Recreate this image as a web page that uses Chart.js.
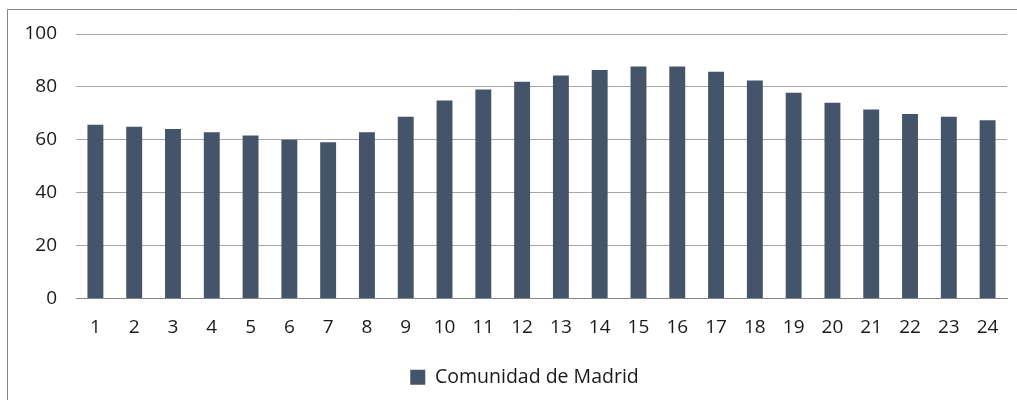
<!DOCTYPE html>
<html>
<head>
<meta charset="utf-8">
<script src="https://cdn.jsdelivr.net/npm/chart.js@4/dist/chart.umd.min.js"></script>
<style>
  html, body { margin: 0; padding: 0; background: #fff; }
  #wrap { position: relative; width: 1017px; height: 400px; }
</style>
</head>
<body>
<div id="wrap"><canvas id="chart"></canvas></div>
<script>
// Datos del gráfico
const horas = ['1', '2', '3', '4', '5', '6', '7', '8', '9', '10', '11', '12',
  '13', '14', '15', '16', '17', '18', '19', '20', '21', '22', '23', '24'];
const madrid = [65.7, 64.9, 64.1, 62.9, 61.6, 60.0, 59.1, 62.9, 68.7, 74.9, 79.0, 81.9,
  84.3, 86.4, 87.7, 87.7, 85.7, 82.4, 77.8, 74.0, 71.5, 69.8, 68.7, 67.4];
const serieNombre = 'Comunidad de Madrid';
const yMin = 0, yMax = 100, yPaso = 20;

// Marco del gráfico (línea superior e izquierda) y leyenda algo desplazada
const framePlugin = {
  id: 'frame',
  afterUpdate(chart) {
    chart.legend.left += 21;
    chart.legend.right += 21;
  },
  afterDraw(chart) {
    const ctx = chart.ctx;
    ctx.save();
    ctx.strokeStyle = '#868686';
    ctx.lineWidth = 1;
    ctx.beginPath();
    ctx.moveTo(7.5, 400);
    ctx.lineTo(7.5, 9.5);
    ctx.lineTo(1017, 9.5);
    ctx.stroke();
    ctx.restore();
  }
};

const fuente = { family: 'Open Sans', size: 19 };

const ctx = document.getElementById('chart').getContext('2d');
new Chart(ctx, {
  type: 'bar',
  data: {
    labels: horas,
    datasets: [{
      label: serieNombre,
      data: madrid,
      backgroundColor: '#44546A',
      borderWidth: 0,
      categoryPercentage: 1,
      barPercentage: 0.41
    }]
  },
  options: {
    responsive: true,
    maintainAspectRatio: false,
    animation: false,
    layout: { padding: { left: 0, right: 10, top: 34, bottom: 3 } },
    plugins: {
      legend: {
        position: 'bottom',
        labels: {
          boxWidth: 15,
          boxHeight: 15,
          padding: 18,
          color: '#1a1a1a',
          font: { family: 'Open Sans', size: 19.5 }
        }
      },
      tooltip: { enabled: false }
    },
    scales: {
      x: {
        grid: { display: false, drawTicks: false },
        border: { color: '#868686' },
        ticks: {
          padding: 18,
          color: '#1a1a1a',
          font: fuente
        },
        afterFit(scale) { scale.height = 51; }
      },
      y: {
        min: yMin,
        max: yMax,
        grid: { color: '#a6a6a6', drawTicks: false },
        border: { display: false },
        ticks: {
          stepSize: yPaso,
          padding: 19,
          color: '#1a1a1a',
          font: fuente
        },
        afterFit(scale) { scale.width = 76; }
      }
    }
  },
  plugins: [framePlugin]
});
</script>
</body>
</html>
